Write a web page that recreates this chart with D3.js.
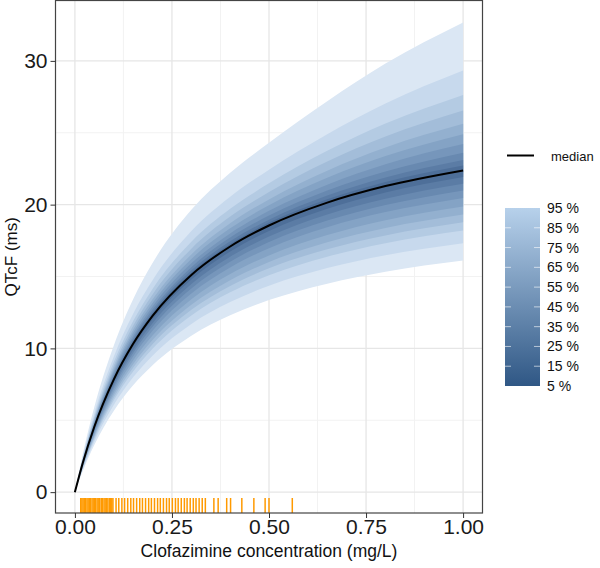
<!DOCTYPE html>
<html><head><meta charset="utf-8">
<script src="https://cdn.jsdelivr.net/npm/d3@7"></script>
<style>body{margin:0;background:#fff}svg{display:block}</style>
</head><body>
<svg id="c" width="600" height="568"></svg>
<script>
// ---- data ----
const conc   = [0, 0.02, 0.05, 0.1, 0.15, 0.2, 0.3, 0.4, 0.5, 0.65, 0.8, 1.0];
const median = [0, 2.01, 4.55, 7.83, 10.32, 12.26, 15.11, 17.09, 18.55, 20.14, 21.29, 22.38];
const hi05 = [0, 2.03, 4.60, 7.91, 10.43, 12.39, 15.26, 17.26, 18.75, 20.38, 21.58, 22.73];
const hi15 = [0, 2.05, 4.65, 7.99, 10.54, 12.52, 15.43, 17.45, 18.95, 20.63, 21.89, 23.10];
const hi25 = [0, 2.08, 4.71, 8.11, 10.69, 12.70, 15.65, 17.71, 19.24, 20.99, 22.31, 23.61];
const hi35 = [0, 2.12, 4.79, 8.25, 10.87, 12.92, 15.92, 18.00, 19.57, 21.39, 22.81, 24.21];
const hi45 = [0, 2.16, 4.89, 8.41, 11.08, 13.16, 16.22, 18.35, 19.96, 21.87, 23.38, 24.90];
const hi55 = [0, 2.20, 4.98, 8.57, 11.30, 13.42, 16.54, 18.71, 20.36, 22.36, 23.97, 25.62];
const hi65 = [0, 2.25, 5.10, 8.78, 11.58, 13.75, 16.94, 19.17, 20.88, 23.00, 24.74, 26.55];
const hi75 = [0, 2.32, 5.25, 9.03, 11.90, 14.14, 17.42, 19.71, 21.48, 23.74, 25.64, 27.63];
const hi85 = [0, 2.42, 5.47, 9.42, 12.41, 14.74, 18.17, 20.55, 22.43, 24.90, 27.04, 29.33];
const hi95 = [0, 2.61, 5.92, 10.18, 13.42, 15.94, 19.64, 22.22, 24.30, 27.19, 29.81, 32.67];
const lo05 = [0, 1.97, 4.46, 7.67, 10.11, 12.01, 14.80, 16.74, 18.17, 19.72, 20.85, 21.92];
const lo15 = [0, 1.93, 4.36, 7.51, 9.89, 11.75, 14.48, 16.38, 17.78, 19.31, 20.41, 21.45];
const lo25 = [0, 1.89, 4.27, 7.34, 9.68, 11.50, 14.17, 16.03, 17.40, 18.89, 19.97, 20.99];
const lo35 = [0, 1.84, 4.16, 7.16, 9.44, 11.22, 13.82, 15.63, 16.97, 18.43, 19.48, 20.47];
const lo45 = [0, 1.79, 4.04, 6.95, 9.16, 10.89, 13.42, 15.17, 16.47, 17.88, 18.91, 19.87];
const lo55 = [0, 1.74, 3.93, 6.76, 8.90, 10.58, 13.04, 14.74, 16.01, 17.38, 18.37, 19.31];
const lo65 = [0, 1.69, 3.82, 6.57, 8.66, 10.29, 12.68, 14.34, 15.57, 16.90, 17.86, 18.77];
const lo75 = [0, 1.64, 3.70, 6.37, 8.39, 9.97, 12.29, 13.90, 15.09, 16.38, 17.31, 18.20];
const lo85 = [0, 1.56, 3.53, 6.06, 7.99, 9.49, 11.70, 13.22, 14.36, 15.59, 16.48, 17.32];
const lo95 = [0, 1.45, 3.28, 5.64, 7.43, 8.83, 10.88, 12.30, 13.36, 14.50, 15.33, 16.11];
const levels = ["95 %","85 %","75 %","65 %","55 %","45 %","35 %","25 %","15 %","5 %"];
const bandColors = ["#dbe7f4","#c7d9ed","#b4cbe3","#a3bdd9","#93b0cf","#84a3c5","#7696bb","#6889b0","#5b7ca5","#4e6f99"];
const rugConc = [0.015,0.018,0.021,0.024,0.027,0.031,0.034,0.037,0.040,0.044,0.047,0.050,0.053,0.057,0.060,0.064,0.068,0.071,0.075,0.078,0.082,0.085,0.089,0.092,0.095,0.098,
  0.106,0.113,0.121,0.128,0.136,0.144,0.151,0.159,0.167,0.174,0.182,0.190,0.197,0.205,0.213,0.220,0.228,0.236,0.243,0.251,0.259,0.266,0.274,0.282,0.289,0.297,0.305,0.312,0.320,0.328,0.336,
  0.358,0.369,0.391,0.401,0.430,0.461,0.490,0.500,0.560];
const xTicks = [0, 0.25, 0.5, 0.75, 1.0];
const xTickLabels = ["0.00","0.25","0.50","0.75","1.00"];
const yTicks = [0, 10, 20, 30];

const his = [hi95,hi85,hi75,hi65,hi55,hi45,hi35,hi25,hi15,hi05];
const los = [lo95,lo85,lo75,lo65,lo55,lo45,lo35,lo25,lo15,lo05];

// ---- layout ----
const L = 55.5, R = 482.5, T = 0.5, B = 513;
const x = d3.scaleLinear().domain([-0.05, 1.05]).range([L, R]);
const y = d3.scaleLinear().domain([-1.45, 34.2]).range([B, T]);
const svg = d3.select("#c");
const font = "'Liberation Sans', Arial, Helvetica, sans-serif";

// grid
const g = svg.append("g");
const xMinor = [0.125, 0.375, 0.625, 0.875];
const yMinor = [5, 15, 25];
g.selectAll(".xm").data(xMinor).enter().append("line")
  .attr("x1", d=>x(d)).attr("x2", d=>x(d)).attr("y1", T).attr("y2", B)
  .attr("stroke", "#f2f2f2").attr("stroke-width", 1);
g.selectAll(".ym").data(yMinor).enter().append("line")
  .attr("y1", d=>y(d)).attr("y2", d=>y(d)).attr("x1", L).attr("x2", R)
  .attr("stroke", "#f2f2f2").attr("stroke-width", 1);
g.selectAll(".xM").data(xTicks).enter().append("line")
  .attr("x1", d=>x(d)).attr("x2", d=>x(d)).attr("y1", T).attr("y2", B)
  .attr("stroke", "#e6e6e6").attr("stroke-width", 1.3);
g.selectAll(".yM").data(yTicks).enter().append("line")
  .attr("y1", d=>y(d)).attr("y2", d=>y(d)).attr("x1", L).attr("x2", R)
  .attr("stroke", "#e6e6e6").attr("stroke-width", 1.3);

// bands
const area = d3.area().x((d,i)=>x(conc[i])).y0(d=>y(d[0])).y1(d=>y(d[1])).curve(d3.curveMonotoneX);
his.forEach((hi, k) => {
  const pts = conc.map((c,i)=>[los[k][i], hi[i]]);
  svg.append("path").attr("d", area(pts)).attr("fill", bandColors[k]);
});

// median
const line = d3.line().x((d,i)=>x(conc[i])).y(d=>y(d)).curve(d3.curveMonotoneX);
svg.append("path").attr("d", line(median)).attr("fill","none").attr("stroke","#000").attr("stroke-width",2);

// rug
svg.selectAll(".rug").data(rugConc).enter().append("line")
  .attr("x1", d=>x(d)).attr("x2", d=>x(d)).attr("y1", B).attr("y2", B - 15)
  .attr("stroke", "#ff9a00").attr("stroke-width", 1.5);

// border
svg.append("rect").attr("x", L).attr("y", T).attr("width", R-L).attr("height", B-T)
  .attr("fill","none").attr("stroke","#444").attr("stroke-width",1.2);

// axes
const xa = svg.append("g").attr("transform", `translate(0,${B})`)
  .call(d3.axisBottom(x).tickValues(xTicks).tickFormat((d,i)=>xTickLabels[i]).tickSize(5).tickPadding(1));
const ya = svg.append("g").attr("transform", `translate(${L},0)`)
  .call(d3.axisLeft(y).tickValues(yTicks).tickSize(5).tickPadding(3));
[xa, ya].forEach(a => {
  a.select(".domain").remove();
  a.selectAll("line").attr("stroke","#333");
  a.selectAll("text").attr("font-family", font).attr("font-size", 21).attr("fill","#1a1a1a");
});

// axis titles
svg.append("text").attr("x", (L+R)/2).attr("y", 557).attr("text-anchor","middle")
  .attr("font-family", font).attr("font-size", 17.5).attr("fill","#111").text("Clofazimine concentration (mg/L)");
svg.append("text").attr("transform", `translate(17,${(T+B)/2}) rotate(-90)`).attr("text-anchor","middle")
  .attr("font-family", font).attr("font-size", 17).attr("fill","#111").text("QTcF (ms)");

// legend: median
svg.append("line").attr("x1", 507).attr("x2", 534).attr("y1", 155.5).attr("y2", 155.5).attr("stroke","#000").attr("stroke-width",2);
svg.append("text").attr("x", 551).attr("y", 160.5).attr("font-family", font).attr("font-size", 13).attr("fill","#111").text("median");

// legend: colour bar
const barTop = 208, barBot = 386, barL = 505, barW = 35;
const defs = svg.append("defs");
const grad = defs.append("linearGradient").attr("id","lg").attr("x1",0).attr("y1",0).attr("x2",0).attr("y2",1);
const gradStops = ["#b7d1eb","#2f5785"];
grad.append("stop").attr("offset","0%").attr("stop-color",gradStops[0]);
grad.append("stop").attr("offset","100%").attr("stop-color",gradStops[1]);
svg.append("rect").attr("x", barL).attr("y", barTop).attr("width", barW).attr("height", barBot-barTop).attr("fill","url(#lg)");
const ly = d3.scalePoint().domain(levels).range([barTop, barBot]);
levels.forEach((lv, i) => {
  const yy = ly(lv);
  if (i > 0 && i < levels.length-1) {
    svg.append("line").attr("x1", barL).attr("x2", barL+6).attr("y1", yy).attr("y2", yy).attr("stroke","#fff").attr("stroke-opacity",0.6);
    svg.append("line").attr("x1", barL+barW-6).attr("x2", barL+barW).attr("y1", yy).attr("y2", yy).attr("stroke","#fff").attr("stroke-opacity",0.6);
  }
  svg.append("text").attr("x", 547).attr("y", yy + 5).attr("font-family", font).attr("font-size", 14).attr("fill","#111").text(lv);
});
</script>
</body></html>
